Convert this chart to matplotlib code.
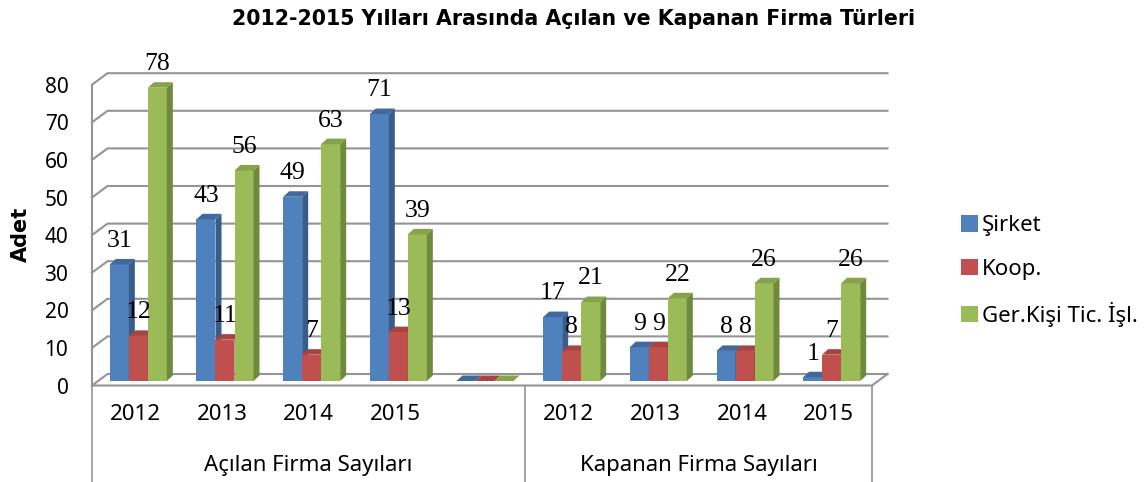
import numpy as np
import matplotlib.pyplot as plt
from matplotlib.patches import Polygon, Rectangle, Patch
from matplotlib.transforms import blended_transform_factory

plt.rcParams['font.family'] = ['Noto Sans', 'DejaVu Sans']

title = "2012-2015 Yılları Arasında Açılan ve Kapanan Firma Türleri"
groups = ["Açılan Firma Sayıları", "Kapanan Firma Sayıları"]
years = ["2012", "2013", "2014", "2015", "", "2012", "2013", "2014", "2015"]
series = ["Şirket", "Koop.", "Ger.Kişi Tic. İşl."]
sirket = [31, 43, 49, 71, 0, 17, 9, 8, 1]
koop = [12, 11, 7, 13, 0, 8, 9, 8, 7]
gercek = [78, 56, 63, 39, 0, 21, 22, 26, 26]
values = [sirket, koop, gercek]

front_c = ['#4F81BD', '#C0504D', '#9BBB59']
side_c = ['#385D8A', '#8C3A38', '#6E8A3C']
top_c = ['#41699E', '#A8433F', '#86A34B']
grid_c = '#949494'

W, H = 1147, 482
fig = plt.figure(figsize=(W / 100, H / 100), dpi=100)
# axes = front plane of the 3d box
ax = fig.add_axes([92 / W, (H - 385.5) / H, 780 / W, 300.8 / H])
ax.set_xlim(-0.5, 8.5)
ax.set_ylim(0, 80)
for s in ax.spines.values():
    s.set_visible(False)
ax.set_xticks([])
ax.set_yticks(range(0, 81, 10))
ax.tick_params(axis='y', length=0, pad=17, labelsize=15)

# pixel -> data unit conversion
p0 = ax.transData.transform((0, 0))
p1 = ax.transData.transform((1, 1))
ux = p1[0] - p0[0]
uy = p1[1] - p0[1]

def px(dx, dy):
    return dx / ux, dy / uy

# walls and grid
gdx, gdy = px(15.5, 11.5)
for v in range(0, 81, 10):
    ax.plot([-0.5, -0.5 + gdx, 8.5 + gdx], [v, v + gdy, v + gdy],
            color=grid_c, lw=1.5, clip_on=False, zorder=1)
ax.plot([-0.5, -0.5], [0, 80], color=grid_c, lw=1.5, clip_on=False, zorder=1)
ax.plot([-0.5, 8.5, 8.5 + gdx], [0, 0, gdy], color=grid_c, lw=1.5,
        clip_on=False, zorder=1)

# category separators below the floor
bt = blended_transform_factory(ax.transData, fig.transFigure)
floor_y = (H - 385.5) / H
for xs in [-0.5, 4.5, 8.5]:
    ax.plot([xs, xs], [0, floor_y], color=grid_c, lw=1.2, transform=bt,
            clip_on=False)

# bars
bw, _ = px(19, 0)
shx, _ = px(3, 0)
_, y0 = px(0, 4.5)
ddx, ddy = px(6, 5.5)
for i in range(len(years)):
    for j in range(3):
        v = values[j][i]
        xl = i + shx - 1.5 * bw + j * bw
        xr = xl + bw
        y1 = y0 + v
        ax.add_patch(Rectangle((xl, y0), bw, v, facecolor=front_c[j],
                               edgecolor='none', clip_on=False, zorder=3))
        ax.add_patch(Polygon([(xr, y0), (xr + ddx, y0 + ddy), (xr + ddx, y1 + ddy), (xr, y1)],
                             closed=True, facecolor=side_c[j], edgecolor='none',
                             clip_on=False, zorder=3))
        ax.add_patch(Polygon([(xl, y1), (xr, y1), (xr + ddx, y1 + ddy), (xl + ddx, y1 + ddy)],
                             closed=True, facecolor=top_c[j], edgecolor='none',
                             clip_on=False, zorder=3))
        if years[i]:
            ax.annotate(str(v), ((xl + xr) / 2, y1), xytext=(0, 17),
                        textcoords='offset points', ha='center', va='center',
                        fontsize=18.5, family='Liberation Serif', zorder=5,
                        annotation_clip=False)

# category labels
for i, yr in enumerate(years):
    if yr:
        ax.text(i, (H - 414) / H, yr, transform=bt, ha='center', va='center',
                fontsize=16)
ax.text(2, (H - 465) / H, groups[0], transform=bt, ha='center',
        va='center', fontsize=16)
ax.text(6.5, (H - 465) / H, groups[1], transform=bt, ha='center',
        va='center', fontsize=16)

fig.text(21 / W, (H - 234) / H, "Adet", rotation=90, ha='center', va='center',
         fontsize=15, fontweight='bold', family='DejaVu Sans')
fig.text(574 / W, (H - 19) / H, title, ha='center', va='center',
         fontsize=14.8, fontweight='bold', family='DejaVu Sans')

handles = [Patch(facecolor=c) for c in front_c]
fig.legend(handles, series, loc='center left', bbox_to_anchor=(952 / W, (H - 271) / H),
           frameon=False, fontsize=16, handlelength=0.75, handleheight=0.75,
           handletextpad=0.2, labelspacing=1.0, borderaxespad=0)

fig.savefig('out.png', dpi=100)
